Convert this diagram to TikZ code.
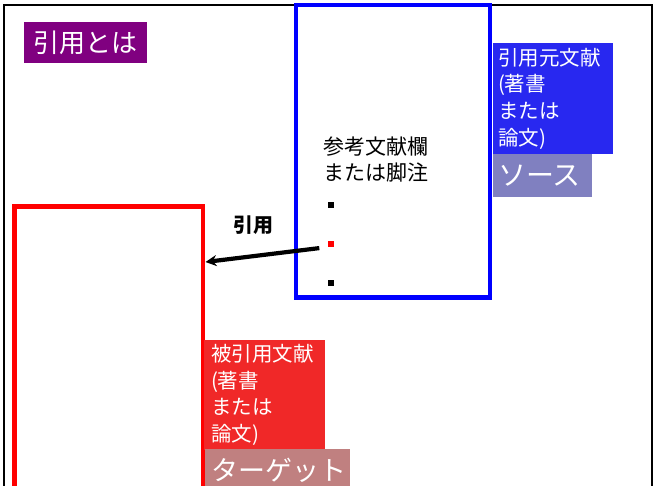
\documentclass[tikz,border=0pt]{standalone}
\usepackage{fontspec}
\setmainfont{Noto Sans CJK JP}
\usetikzlibrary{arrows.meta}
\definecolor{titlepurple}{RGB}{128,0,128}
\definecolor{srcblue}{RGB}{40,40,240}
\definecolor{srcgray}{RGB}{128,128,192}
\definecolor{tgtred}{RGB}{240,40,40}
\definecolor{tgtbrown}{RGB}{192,128,128}
\tikzset{
  docbox/.style={draw, line width=4.5pt, anchor=north west, inner sep=0pt, outer sep=0pt},
  tagbox/.style={anchor=north west, inner sep=0pt, outer sep=0pt, text=white, align=left},
  bulletsq/.style={minimum size=5.5pt, inner sep=0pt, outer sep=0pt},
}
\begin{document}
\begin{tikzpicture}[x=1pt,y=-1pt]
\useasboundingbox (0,0) rectangle (658,486);
\clip (0,0) rectangle (658,486);
\fill[white] (0,0) rectangle (658,486);
% outer frame
\node[draw=black, line width=2.2pt, anchor=north west, inner sep=0pt, minimum width=648pt, minimum height=500pt] (frame) at (2.5,4) {};
% title
\node[tagbox, fill=titlepurple, minimum width=123pt, minimum height=41pt, align=center, anchor=center, font=\fontsize{26}{30}\selectfont] (title) at (85.5,42.5) {引用とは};
% source document
\node[docbox, draw=blue, minimum width=194pt, minimum height=292.5pt] (source) at (296,5) {};
\node[anchor=west, inner sep=0pt, align=left, font=\fontsize{21}{26}\selectfont] (refs) at (323,160) {参考文献欄\\または脚注};
\node[bulletsq, fill=black] (b1) at (331,205) {};
\node[bulletsq, fill=red] (b2) at (331,244) {};
\node[bulletsq, fill=black] (b3) at (331,283) {};
% source tags
\node[tagbox, fill=srcblue, minimum width=120pt, minimum height=111pt, text width=116pt, font=\fontsize{20.5}{26.7}\selectfont] (srclabel) at (493,43) {\hspace*{3pt}引用元文献\\\hspace*{3pt}(著書\\\hspace*{3pt}または\\\hspace*{3pt}論文)};
\node[tagbox, fill=srcgray, minimum width=99pt, minimum height=43pt, text width=95pt, font=\fontsize{28}{32}\selectfont] (srcname) at (493,154) {\hspace*{3pt}ソース};
% target document
\node[docbox, draw=red, minimum width=188.5pt, minimum height=320pt] (target) at (14.5,206.5) {};
\node[tagbox, fill=tgtred, minimum width=121pt, minimum height=110pt, text width=117pt, font=\fontsize{20.5}{26.7}\selectfont] (tgtlabel) at (204,340) {\hspace*{5pt}被引用文献\\\hspace*{5pt}(著書\\\hspace*{5pt}または\\\hspace*{5pt}論文)};
\node[tagbox, fill=tgtbrown, minimum width=145pt, minimum height=42pt, text width=141pt, font=\fontsize{27}{31}\selectfont] (tgtname) at (205,449) {\hspace*{4pt}ターゲット};
% citation arrow
\coordinate (citeend) at (205.5,262);
\draw[line width=4.2pt, -{Stealth[length=11pt,width=11pt]}, shorten <=9pt] (b2.west) ++(0,3) coordinate (citestart) (citestart) -- (citeend);
\node[font=\fontsize{20}{24}\selectfont\bfseries] (citelabel) at (253,225) {引用};
\end{tikzpicture}
\end{document}
